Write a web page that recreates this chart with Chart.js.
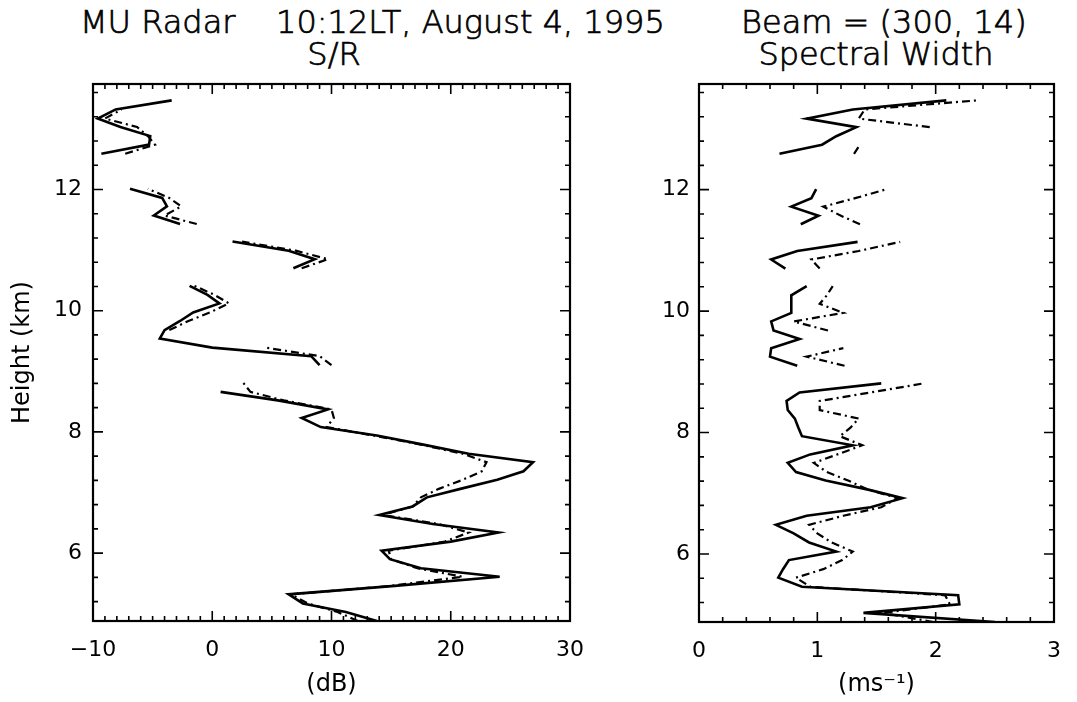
<!DOCTYPE html>
<html>
<head>
<meta charset="utf-8">
<script src="https://cdn.jsdelivr.net/npm/chart.js@4.4.0/dist/chart.umd.min.js"></script>
<style>
  body { margin: 0; background: #fff; }
  #wrap { position: relative; width: 1077px; height: 702px; overflow: hidden; font-family: "DejaVu Sans", sans-serif; }
  canvas { position: absolute; top: 0; }
  .ttl { position: absolute; font-size: 32px; line-height: 32px; font-weight: 200; white-space: pre; color: #000; -webkit-text-stroke: 0.7px #000; }
</style>
</head>
<body>
<div id="wrap">
  <div class="ttl" style="left:80px; top:6px">MU Radar    10:12LT, August 4, 1995</div>
  <div class="ttl" style="left:741px; top:6px">Beam = (300, 14)</div>
  <div class="ttl" style="left:134px; width:400px; text-align:center; top:38px">S/R</div>
  <div class="ttl" style="left:676px; width:400px; text-align:center; top:38px">Spectral Width</div>
  <canvas id="sr" width="600" height="702" style="left:0"></canvas>
  <canvas id="sw" width="477" height="702" style="left:600px"></canvas>
</div>
<script>
// range gates, 0.1455 km apart (beam tilted 14 deg)
const heights = [
  4.88, 5.03, 5.17, 5.32, 5.46, 5.61, 5.75, 5.90, 6.04, 6.19,
  6.34, 6.48, 6.63, 6.77, 6.92, 7.06, 7.21, 7.35, 7.50, 7.64,
  7.79, 7.94, 8.08, 8.23, 8.37, 8.52, 8.66, 8.81, 8.95, 9.10,
  9.25, 9.39, 9.54, 9.68, 9.83, 9.97, 10.12, 10.26, 10.41, 10.55,
  10.70, 10.85, 10.99, 11.14, 11.28, 11.43, 11.57, 11.72, 11.86, 12.01,
  12.16, 12.30, 12.45, 12.59, 12.74, 12.88, 13.03, 13.17, 13.32, 13.47
];

const yTicks = [6, 8, 10, 12];
const srTicks = [-10, 0, 10, 20, 30];
const swTicks = [0, 1, 2, 3];

// S/R (dB)
const srSolid = [
  13.8, 11.2, 7.6, 6.4, 15.3, 24.1, 17.5, 14.9, 14.2, 20.0,
  24.0, 18.5, 14.0, 16.8, 18.0, 20.8, 23.9, 26.1, 26.9, 21.5,
  17.7, 13.8, 9.1, 7.5, 9.7, 5.5, 0.7, null, null, 9.0,
  8.3, 0.0, -4.4, -4.0, -2.7, -1.6, 0.6, -0.4, -1.9, null,
  6.8, 8.6, 6.4, 1.7, null, -2.7, -4.9, -3.8, -4.2, -6.9,
  null, null, null, -9.3, -5.3, -5.2, -7.7, -9.6, -8.1, -3.4
];
const srDash = [
  12.2, 10.5, 8.0, 6.6, 15.0, 21.0, 17.2, 15.0, 14.8, 19.5,
  21.5, 19.0, 14.3, 16.8, 17.5, 19.0, 21.0, 22.6, 23.0, 21.0,
  17.5, 13.5, 9.6, 10.2, 10.0, 6.0, 3.2, 2.6, null, 10.0,
  9.0, 4.5, null, -3.6, -2.0, -0.2, 1.4, 0.2, -1.5, null,
  7.5, 9.7, 7.0, 2.5, null, -1.3, -4.0, -2.6, -3.6, -5.4,
  null, null, null, -7.3, -4.8, -5.4, -6.3, -9.0, -7.6, null
];

// spectral width (m/s)
const swSolid = [
  2.50, 1.39, 2.20, 2.19, 0.87, 0.67, 0.71, 0.76, 1.16, 0.93,
  0.80, 0.65, 0.91, 1.45, 1.72, 1.43, 1.07, 0.82, 0.75, 0.94,
  1.30, 0.87, 0.84, 0.81, 0.75, 0.74, 0.85, 1.54, null, 0.83,
  0.60, 0.61, 0.85, 0.63, 0.61, 0.78, 0.78, 0.78, 0.91, null,
  0.73, 0.61, 0.83, 1.34, null, 0.86, 1.01, 0.78, 0.95, 0.99,
  null, null, null, 0.68, 1.04, 1.16, 1.33, 0.91, 1.30, 2.09
];
const swDash = [
  1.98, 1.55, 2.12, 2.08, 0.94, 0.82, 1.05, 1.21, 1.30, 1.12,
  1.00, 0.93, 1.22, 1.54, 1.68, 1.43, 1.26, 1.08, 0.97, 1.17,
  1.38, 1.19, 1.28, 1.35, 1.02, 1.02, 1.45, 1.90, null, 1.23,
  0.91, 1.22, null, 1.09, 0.80, 1.22, 1.02, 1.08, 1.13, null,
  1.02, 0.95, 1.35, 1.70, null, 1.36, 1.20, 1.05, 1.32, 1.59,
  null, null, null, 1.31, 1.36, null, 1.95, 1.35, 1.40, 2.35
];

Chart.defaults.font.family = "DejaVu Sans";
Chart.defaults.font.weight = 400;
Chart.defaults.color = "#000";

// box frame + inward major/minor ticks on all four sides
const frameTicks = {
  id: "frameTicks",
  afterDraw(chart, args, opts) {
    const { ctx, chartArea: a } = chart;
    const xs = chart.scales.x, ys = chart.scales.y;
    ctx.save();
    ctx.strokeStyle = "#000";
    ctx.lineWidth = 1.6;
    ctx.beginPath();
    const steps = (lo, hi, st) => {
      const out = [];
      for (let i = Math.ceil(lo / st - 1e-6); i * st <= hi + 1e-6; i++) out.push(i * st);
      return out;
    };
    const xTick = (v, len) => {
      const p = xs.getPixelForValue(v);
      ctx.moveTo(p, a.bottom); ctx.lineTo(p, a.bottom - len);
      ctx.moveTo(p, a.top); ctx.lineTo(p, a.top + len);
    };
    const yTick = (v, len) => {
      const p = ys.getPixelForValue(v);
      ctx.moveTo(a.left, p); ctx.lineTo(a.left + len, p);
      ctx.moveTo(a.right, p); ctx.lineTo(a.right - len, p);
    };
    steps(xs.min, xs.max, opts.xMinor).forEach(v => xTick(v, 5));
    steps(ys.min, ys.max, opts.yMinor).forEach(v => yTick(v, 5));
    xs.ticks.forEach(t => xTick(t.value, 10));
    ys.ticks.forEach(t => yTick(t.value, 10));
    ctx.stroke();
    ctx.lineWidth = 2.2;
    ctx.strokeRect(a.left, a.top, a.right - a.left, a.bottom - a.top);
    ctx.restore();
  }
};

function makePanel(id, solid, dash, cfg) {
  return new Chart(document.getElementById(id), {
    type: "line",
    data: {
      datasets: [
        {
          data: heights.map((h, i) => ({ x: solid[i], y: h })),
          borderColor: "#000", borderWidth: 2.6, pointRadius: 0, tension: 0, spanGaps: false
        },
        {
          data: heights.map((h, i) => ({ x: dash[i], y: h })),
          borderColor: "#000", borderWidth: 2.2, borderDash: [8, 4, 2, 4], pointRadius: 0, tension: 0, spanGaps: false
        }
      ]
    },
    options: {
      responsive: false,
      animation: false,
      indexAxis: "y",
      layout: { padding: { left: 0, right: cfg.padRight, top: 84, bottom: 0 } },
      plugins: {
        legend: { display: false },
        tooltip: { enabled: false },
        frameTicks: { xMinor: cfg.xMinor, yMinor: 0.4 }
      },
      scales: {
        x: {
          type: "linear",
          position: "bottom",
          min: cfg.xMin,
          max: cfg.xMax,
          grid: { display: false, drawTicks: false },
          border: { display: false },
          afterBuildTicks: s => { s.ticks = cfg.xTicks.map(v => ({ value: v })); },
          afterFit: s => { s.height = cfg.xHeight; },
          ticks: {
            padding: 16, maxRotation: 0, font: { size: 22 },
            callback: v => (v < 0 ? "\u2212" + Math.abs(v) : String(v))
          },
          title: { display: true, text: cfg.xTitle, font: { size: 24 }, padding: { top: 0, bottom: 3 } }
        },
        y: {
          type: "linear",
          min: 4.88,
          max: 13.74,
          grid: { display: false, drawTicks: false },
          border: { display: false },
          afterBuildTicks: s => { s.ticks = yTicks.map(v => ({ value: v })); },
          afterFit: s => { s.width = cfg.yWidth; },
          ticks: { padding: cfg.yPad, font: { size: 22 } },
          title: { display: !!cfg.yTitle, text: cfg.yTitle || "", font: { size: 24 }, padding: { top: 8, bottom: 0 } }
        }
      }
    },
    plugins: [frameTicks]
  });
}

makePanel("sr", srSolid, srDash, {
  xMin: -10, xMax: 30, xTicks: srTicks, xMinor: 1, xTitle: "(dB)",
  yTitle: "Height (km)", yWidth: 93, yPad: 11, padRight: 24, xHeight: 81
});
makePanel("sw", swSolid, swDash, {
  xMin: 0, xMax: 3, xTicks: swTicks, xMinor: 0.2, xTitle: "(ms\u207B\u00B9)",
  yTitle: null, yWidth: 99, yPad: 9, padRight: 13, xHeight: 80
});
</script>
</body>
</html>
